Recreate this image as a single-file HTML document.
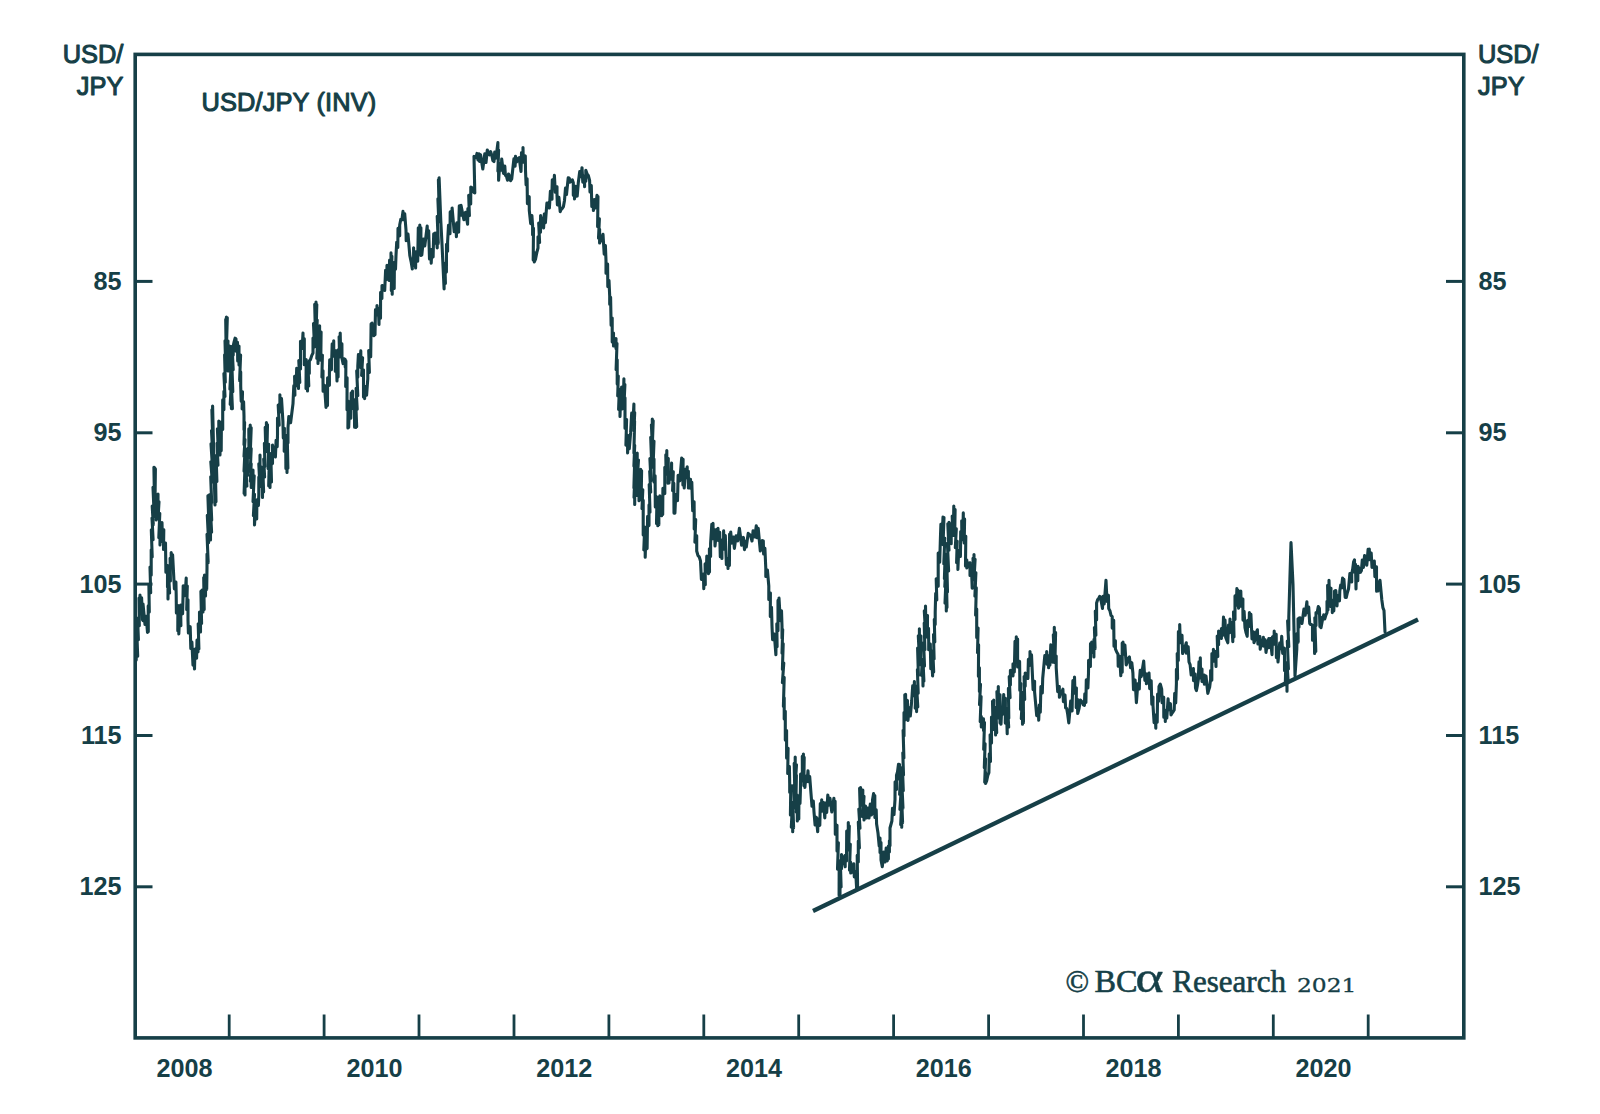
<!DOCTYPE html>
<html><head><meta charset="utf-8"><title>USD/JPY (INV)</title>
<style>
html,body{margin:0;padding:0;background:#fff;}
svg{display:block;}
.ax{font-family:"Liberation Sans",Arial,Helvetica,sans-serif;font-weight:normal;font-size:25.4px;fill:#163f47;stroke:#163f47;stroke-width:1.05px;stroke-linejoin:round;}
.num{font-family:"Liberation Sans",Arial,Helvetica,sans-serif;font-weight:bold;font-size:25.2px;fill:#163f47;}
.wm{font-family:"Liberation Serif","Times New Roman",serif;font-size:31px;fill:#163f47;stroke:#163f47;stroke-width:0.6px;}
.yr{font-family:"DejaVu Serif","Liberation Serif",serif;font-size:19px;stroke-width:0.3px;}
</style></head>
<body>
<svg width="1600" height="1114" viewBox="0 0 1600 1114">
<rect width="1600" height="1114" fill="#ffffff"/>
<rect x="135.2" y="54.4" width="1328.6" height="983.5000000000001" fill="none" stroke="#163f47" stroke-width="3.6"/>
<line x1="135.2" y1="281.4" x2="152.5" y2="281.4" stroke="#163f47" stroke-width="3"/>
<line x1="1446.0" y1="281.4" x2="1463.8" y2="281.4" stroke="#163f47" stroke-width="3"/>
<text class="num" x="121.6" y="289.8" text-anchor="end">85</text>
<text class="num" x="1478.6" y="289.8" text-anchor="start">85</text>
<line x1="135.2" y1="432.8" x2="152.5" y2="432.8" stroke="#163f47" stroke-width="3"/>
<line x1="1446.0" y1="432.8" x2="1463.8" y2="432.8" stroke="#163f47" stroke-width="3"/>
<text class="num" x="121.6" y="441.2" text-anchor="end">95</text>
<text class="num" x="1478.6" y="441.2" text-anchor="start">95</text>
<line x1="135.2" y1="584.1" x2="152.5" y2="584.1" stroke="#163f47" stroke-width="3"/>
<line x1="1446.0" y1="584.1" x2="1463.8" y2="584.1" stroke="#163f47" stroke-width="3"/>
<text class="num" x="121.6" y="592.5" text-anchor="end">105</text>
<text class="num" x="1478.6" y="592.5" text-anchor="start">105</text>
<line x1="135.2" y1="735.5" x2="152.5" y2="735.5" stroke="#163f47" stroke-width="3"/>
<line x1="1446.0" y1="735.5" x2="1463.8" y2="735.5" stroke="#163f47" stroke-width="3"/>
<text class="num" x="121.6" y="743.9" text-anchor="end">115</text>
<text class="num" x="1478.6" y="743.9" text-anchor="start">115</text>
<line x1="135.2" y1="886.8" x2="152.5" y2="886.8" stroke="#163f47" stroke-width="3"/>
<line x1="1446.0" y1="886.8" x2="1463.8" y2="886.8" stroke="#163f47" stroke-width="3"/>
<text class="num" x="121.6" y="895.2" text-anchor="end">125</text>
<text class="num" x="1478.6" y="895.2" text-anchor="start">125</text>
<line x1="229.2" y1="1014.5" x2="229.2" y2="1037.9" stroke="#163f47" stroke-width="2.8"/>
<line x1="324.1" y1="1014.5" x2="324.1" y2="1037.9" stroke="#163f47" stroke-width="2.8"/>
<line x1="419.0" y1="1014.5" x2="419.0" y2="1037.9" stroke="#163f47" stroke-width="2.8"/>
<line x1="514.0" y1="1014.5" x2="514.0" y2="1037.9" stroke="#163f47" stroke-width="2.8"/>
<line x1="608.9" y1="1014.5" x2="608.9" y2="1037.9" stroke="#163f47" stroke-width="2.8"/>
<line x1="703.8" y1="1014.5" x2="703.8" y2="1037.9" stroke="#163f47" stroke-width="2.8"/>
<line x1="798.7" y1="1014.5" x2="798.7" y2="1037.9" stroke="#163f47" stroke-width="2.8"/>
<line x1="893.6" y1="1014.5" x2="893.6" y2="1037.9" stroke="#163f47" stroke-width="2.8"/>
<line x1="988.6" y1="1014.5" x2="988.6" y2="1037.9" stroke="#163f47" stroke-width="2.8"/>
<line x1="1083.5" y1="1014.5" x2="1083.5" y2="1037.9" stroke="#163f47" stroke-width="2.8"/>
<line x1="1178.4" y1="1014.5" x2="1178.4" y2="1037.9" stroke="#163f47" stroke-width="2.8"/>
<line x1="1273.3" y1="1014.5" x2="1273.3" y2="1037.9" stroke="#163f47" stroke-width="2.8"/>
<line x1="1368.2" y1="1014.5" x2="1368.2" y2="1037.9" stroke="#163f47" stroke-width="2.8"/>
<text class="num" x="184.6" y="1076.5" text-anchor="middle">2008</text>
<text class="num" x="374.4" y="1076.5" text-anchor="middle">2010</text>
<text class="num" x="564.2" y="1076.5" text-anchor="middle">2012</text>
<text class="num" x="754.0" y="1076.5" text-anchor="middle">2014</text>
<text class="num" x="943.8" y="1076.5" text-anchor="middle">2016</text>
<text class="num" x="1133.6" y="1076.5" text-anchor="middle">2018</text>
<text class="num" x="1323.4" y="1076.5" text-anchor="middle">2020</text>
<text class="ax" x="123.4" y="63" text-anchor="end">USD/</text>
<text class="ax" x="123.4" y="95.3" text-anchor="end">JPY</text>
<text class="ax" x="1478" y="63">USD/</text>
<text class="ax" x="1478" y="95.3">JPY</text>
<text class="ax" x="201.4" y="111.4" style="letter-spacing:0.15px">USD/JPY (INV)</text>
<path d="M136.2,660.0 L136.2,648.4 L137.7,656.2 L136.8,632.1 L138.4,639.7 L137.6,618.2 L139.3,625.7 L139.0,598.0 L140.0,603.5 L140.0,595.0 L140.0,606.9 L141.6,597.9 L142.5,620.0 L142.5,610.7 L143.0,620.6 L143.0,604.0 L145.0,624.5 L146.2,616.4 L147.5,632.5 L147.5,624.2 L148.3,631.8 L148.2,605.9 L149.3,612.1 L148.9,585.5 L150.7,592.7 L150.0,567.0 L151.2,575.2 L151.2,562.5 L151.2,549.7 L152.2,556.9 L151.3,529.8 L153.1,539.8 L152.0,518.0 L153.3,524.6 L152.2,506.1 L154.0,511.4 L153.0,487.4 L154.4,496.7 L153.9,467.2 L154.5,476.4 L154.5,467.5 L154.5,478.5 L155.4,468.9 L155.0,501.4 L156.1,494.5 L155.4,516.8 L156.2,507.9 L156.2,520.0 L156.2,509.0 L157.7,515.7 L158.0,494.0 L158.0,507.5 L159.0,501.9 L158.0,518.8 L159.8,513.5 L158.8,537.7 L160.0,529.9 L160.0,545.0 L160.1,532.9 L161.3,541.6 L162.0,522.5 L162.3,535.3 L163.8,529.7 L163.5,549.4 L165.5,543.1 L165.9,572.2 L167.5,565.6 L167.5,575.0 L167.5,587.0 L168.0,580.0 L168.0,599.0 L168.0,587.4 L169.6,592.9 L168.6,574.8 L170.4,581.1 L170.1,558.3 L171.2,564.8 L171.2,552.5 L171.4,562.7 L172.6,554.8 L174.4,588.9 L175.9,582.0 L176.2,595.0 L176.4,612.9 L177.9,605.5 L177.8,630.8 L178.8,624.9 L178.8,634.0 L179.6,616.6 L180.9,625.7 L180.6,605.1 L182.6,613.8 L183.0,597.5 L183.2,585.8 L185.1,595.6 L186.2,578.0 L186.2,593.1 L187.3,586.0 L186.7,609.6 L188.0,599.7 L188.0,620.0 L188.4,633.0 L190.2,626.7 L190.8,648.5 L191.9,642.1 L193.0,665.3 L194.3,660.0 L194.5,669.0 L195.0,649.0 L196.6,658.3 L197.0,640.0 L198.0,652.0 L198.0,639.4 L198.9,649.0 L198.2,623.7 L199.5,630.0 L199.5,612.0 L199.5,620.5 L200.5,614.7 L200.5,632.0 L200.5,617.9 L201.6,623.6 L200.9,591.4 L202.0,601.3 L202.0,590.0 L202.0,607.1 L203.0,599.1 L203.0,612.0 L203.0,604.5 L204.2,609.6 L203.7,577.5 L204.5,587.3 L204.5,575.0 L204.5,590.6 L205.5,583.2 L205.5,596.0 L205.6,579.5 L206.7,589.5 L207.0,568.0 L207.0,554.1 L208.2,562.8 L207.0,534.2 L208.6,542.7 L207.3,515.2 L208.8,522.0 L207.9,495.8 L208.8,505.1 L208.8,495.0 L208.8,509.3 L209.9,500.0 L208.9,521.9 L210.5,515.0 L209.4,536.0 L210.5,530.6 L210.5,540.0 L210.5,522.8 L211.6,532.2 L210.5,511.5 L211.7,520.1 L210.6,494.0 L211.7,503.2 L210.7,476.7 L212.3,481.9 L210.8,461.7 L212.5,467.9 L211.0,443.9 L212.6,451.9 L211.5,430.6 L212.6,435.7 L211.9,409.9 L212.6,415.9 L212.6,406.0 L213.8,458.2 L215.0,505.0 L215.0,492.4 L216.0,501.8 L215.5,475.4 L216.9,481.4 L216.1,455.6 L218.0,465.2 L217.0,443.2 L218.3,451.1 L217.4,428.7 L218.8,436.2 L218.8,421.0 L218.8,436.7 L220.0,428.2 L218.9,447.5 L220.0,441.7 L220.0,455.0 L220.0,444.7 L221.2,450.7 L221.4,421.9 L222.7,429.4 L222.7,399.9 L223.9,409.8 L223.9,398.6 L223.9,391.3 L225.0,396.5 L223.9,373.6 L225.3,382.1 L224.6,354.9 L225.6,363.8 L225.0,340.8 L226.1,348.1 L225.7,319.4 L226.4,325.6 L226.4,317.0 L226.4,326.0 L227.3,317.8 L226.4,349.3 L228.0,341.0 L227.3,370.3 L228.0,361.9 L228.0,371.0 L228.3,355.9 L229.3,361.8 L229.6,346.0 L229.6,357.9 L230.4,349.3 L229.6,371.1 L231.1,364.3 L229.9,389.3 L231.4,381.2 L230.2,404.4 L231.4,395.5 L231.4,408.6 L231.4,399.2 L232.4,408.8 L231.4,384.4 L232.8,391.7 L231.8,362.8 L233.2,369.7 L232.1,346.4 L233.2,355.3 L233.2,346.0 L234.1,341.9 L235.1,338.2 L236.0,339.0 L236.0,351.1 L237.5,342.4 L237.7,361.0 L237.8,348.1 L239.0,356.7 L239.0,346.0 L239.0,365.0 L240.6,355.0 L239.6,380.8 L240.7,371.9 L240.7,386.0 L241.2,401.2 L242.5,391.9 L242.1,409.0 L243.6,401.8 L244.0,416.0 L244.0,429.7 L244.6,422.3 L244.0,444.8 L245.0,439.5 L244.0,456.3 L245.0,449.6 L244.0,471.3 L245.0,465.6 L244.1,493.5 L245.0,484.3 L245.0,495.0 L245.0,478.6 L246.9,486.1 L245.9,469.3 L247.5,475.4 L247.3,448.8 L249.0,457.4 L248.8,428.9 L250.2,438.2 L250.2,425.0 L250.2,434.8 L251.2,427.9 L250.2,454.6 L251.2,448.5 L250.2,471.5 L251.2,463.9 L250.3,481.2 L251.2,473.5 L251.2,487.5 L251.2,475.3 L253.0,480.4 L253.0,470.0 L253.0,482.8 L254.2,475.8 L253.0,501.8 L254.5,494.3 L253.4,515.7 L254.5,508.0 L254.5,525.0 L255.4,509.3 L256.7,518.9 L256.9,499.9 L258.4,505.5 L258.8,495.0 L258.8,477.1 L259.9,486.6 L258.8,463.8 L260.0,469.8 L260.0,455.0 L260.0,473.0 L261.8,467.3 L261.0,484.8 L262.2,478.8 L262.5,497.5 L262.5,485.3 L263.6,491.9 L262.9,471.3 L264.6,476.9 L263.7,459.1 L264.9,466.6 L264.4,443.4 L265.8,451.1 L265.2,427.4 L266.4,434.5 L266.4,422.5 L266.4,430.9 L267.5,424.8 L266.9,451.8 L268.7,444.2 L268.1,468.7 L269.3,459.4 L268.7,485.9 L270.0,476.8 L270.0,487.5 L270.0,475.5 L271.5,482.1 L270.8,453.6 L272.5,463.6 L272.5,445.0 L273.5,449.7 L274.4,454.1 L275.4,457.0 L276.1,440.4 L277.2,446.7 L277.5,435.0 L277.5,418.1 L279.2,425.2 L278.2,405.1 L279.9,412.1 L279.9,394.8 L279.9,404.6 L281.5,398.6 L282.9,421.0 L283.3,438.0 L284.4,428.2 L284.2,451.2 L285.7,442.4 L285.9,468.5 L287.0,462.5 L287.0,472.5 L287.0,463.2 L287.9,468.3 L287.2,435.0 L288.0,442.9 L288.0,428.0 L288.8,416.6 L290.6,422.7 L293.0,403.6 L293.8,385.7 L294.9,395.3 L294.6,376.2 L296.1,385.9 L296.7,368.4 L297.1,384.4 L298.5,377.8 L298.5,388.5 L298.5,375.4 L299.8,382.5 L298.8,360.6 L300.5,369.1 L300.5,350.9 L300.5,341.2 L302.2,348.4 L303.0,333.0 L303.1,344.7 L304.3,338.8 L304.3,364.7 L306.2,359.6 L306.0,388.5 L307.5,380.0 L307.5,391.0 L307.5,379.0 L308.8,386.0 L307.9,363.5 L309.3,373.4 L309.3,361.0 L310.5,359.5 L311.8,355.4 L313.0,353.0 L313.0,338.0 L314.5,346.9 L313.5,323.6 L315.4,333.0 L314.7,304.4 L316.0,313.3 L316.0,302.0 L316.0,313.3 L316.8,304.6 L316.2,327.5 L317.2,320.1 L316.4,343.4 L318.0,335.2 L316.8,358.5 L318.0,348.8 L318.0,363.4 L318.0,351.4 L319.1,359.7 L318.2,331.3 L319.6,338.3 L319.6,325.7 L319.6,340.5 L321.1,332.0 L320.8,360.3 L322.4,355.2 L321.9,377.1 L323.0,370.8 L323.0,381.0 L323.1,391.3 L324.5,385.3 L326.0,407.4 L326.0,399.2 L327.5,405.5 L327.6,377.8 L329.4,385.3 L329.4,373.5 L329.7,359.8 L331.4,369.8 L332.2,343.8 L333.7,349.1 L333.7,340.8 L333.8,356.1 L335.7,350.8 L335.3,371.2 L336.5,363.9 L337.0,381.0 L337.0,369.0 L338.1,377.1 L338.1,349.9 L339.6,357.0 L339.1,336.8 L340.2,343.6 L340.2,333.0 L340.6,351.6 L341.9,343.8 L342.0,358.4 L343.1,363.6 L344.1,358.8 L345.2,359.6 L345.2,367.1 L345.9,360.9 L345.7,386.5 L347.1,377.8 L347.0,409.8 L348.1,401.0 L347.9,428.0 L348.7,418.3 L348.7,427.5 L349.3,411.1 L350.8,418.2 L351.2,392.7 L352.5,398.9 L352.5,391.0 L353.0,408.4 L354.4,399.8 L354.6,427.3 L355.8,418.2 L355.8,427.5 L355.8,418.7 L356.7,426.8 L355.8,404.1 L357.2,409.3 L356.1,388.3 L357.8,395.6 L356.7,370.9 L357.8,377.2 L357.8,366.0 L358.4,354.6 L359.9,363.5 L360.8,350.9 L360.9,367.7 L362.6,357.9 L361.6,375.5 L363.5,369.9 L363.5,397.0 L364.6,388.8 L364.6,398.6 L365.1,386.6 L366.6,395.1 L367.8,378.5 L367.8,364.3 L369.4,372.5 L368.7,350.5 L370.7,356.7 L371.1,323.7 L372.0,333.1 L372.0,323.0 L373.9,335.8 L373.9,328.4 L375.0,334.7 L375.5,309.5 L377.0,315.0 L377.0,305.6 L377.0,313.7 L378.4,308.3 L379.0,324.5 L379.1,310.2 L380.5,318.3 L380.6,292.4 L381.9,298.5 L382.0,285.5 L383.4,286.2 L384.7,290.5 L385.6,270.3 L386.7,279.5 L387.0,265.4 L387.0,274.6 L388.4,265.6 L389.0,280.5 L389.6,260.0 L391.0,266.0 L391.0,252.9 L391.0,265.3 L391.9,256.2 L391.3,290.5 L392.2,280.6 L392.2,294.3 L392.2,279.7 L394.2,288.5 L394.4,262.4 L395.5,269.3 L396.0,255.4 L396.7,242.3 L397.8,247.6 L398.0,228.4 L399.7,235.8 L399.7,225.0 L400.8,219.3 L401.9,219.6 L403.0,211.4 L403.0,219.8 L404.7,213.7 L406.0,230.0 L406.2,240.6 L408.0,234.1 L409.8,255.4 L411.1,261.6 L412.3,269.0 L412.3,258.8 L413.6,265.6 L413.6,247.8 L413.6,259.3 L415.3,253.8 L415.6,268.0 L415.8,251.7 L417.7,261.3 L418.3,227.7 L419.8,234.9 L419.8,225.0 L419.8,234.3 L420.9,227.7 L420.9,255.5 L421.8,246.0 L421.8,255.0 L423.4,239.1 L424.8,245.9 L427.2,226.0 L427.5,237.8 L428.7,230.9 L429.5,259.0 L431.0,250.0 L431.2,263.2 L431.9,249.2 L433.1,257.0 L433.7,233.9 L434.9,243.3 L435.0,233.0 L435.0,240.7 L436.3,233.1 L437.2,248.0 L437.2,233.7 L438.3,243.5 L437.2,216.3 L438.8,221.7 L437.9,198.9 L439.0,204.3 L438.4,179.7 L439.1,189.2 L439.1,177.8 L440.8,221.0 L441.9,242.0 L443.0,265.5 L444.1,289.0 L444.2,275.1 L445.4,283.4 L444.9,263.3 L446.4,272.1 L446.5,244.3 L447.6,251.2 L447.6,242.0 L448.5,225.3 L450.0,233.7 L450.2,211.9 L451.9,220.5 L452.1,208.0 L454.2,231.8 L456.1,224.7 L456.4,236.6 L456.8,222.8 L458.6,232.1 L459.3,205.7 L461.0,215.2 L461.0,205.2 L463.9,219.8 L465.6,212.2 L467.6,224.2 L467.9,208.5 L469.4,215.6 L468.7,195.2 L470.7,203.9 L470.8,187.0 L471.8,187.6 L472.8,189.0 L473.8,192.4 L474.8,192.9 L474.0,156.4 L475.0,156.6 L476.0,157.6 L477.0,153.4 L478.0,160.0 L479.0,153.9 L479.5,161.4 L480.6,154.9 L482.8,169.0 L484.8,153.7 L486.0,162.5 L487.3,150.0 L488.4,154.2 L489.5,154.8 L490.6,151.6 L491.8,155.2 L492.9,160.6 L494.0,161.5 L494.7,152.0 L496.0,158.1 L497.9,142.6 L497.9,158.1 L498.6,150.1 L497.9,171.1 L498.6,164.7 L498.6,180.3 L499.8,163.6 L501.3,170.2 L501.7,159.0 L503.5,173.4 L504.8,166.0 L505.4,175.3 L506.4,176.2 L507.5,180.2 L508.5,174.0 L509.6,176.3 L510.6,180.7 L511.7,179.0 L513.9,158.8 L515.1,166.2 L515.5,156.4 L516.7,161.9 L518.0,158.9 L519.2,157.7 L521.0,171.5 L521.5,152.5 L523.0,159.4 L523.0,147.6 L523.3,162.3 L525.3,155.9 L525.5,170.3 L526.1,185.0 L527.1,178.8 L527.4,203.6 L529.2,196.7 L529.3,210.5 L530.7,223.6 L531.9,215.6 L532.6,225.5 L532.6,234.8 L533.5,228.2 L533.2,260.0 L534.3,252.5 L534.3,262.0 L535.5,259.1 L536.8,252.6 L538.0,248.0 L538.0,236.7 L539.6,242.5 L538.7,223.1 L540.5,232.2 L540.6,215.5 L541.6,220.1 L542.6,223.0 L543.6,228.0 L544.3,214.1 L545.4,222.7 L546.9,203.0 L548.1,203.0 L549.4,208.0 L550.4,191.2 L552.0,199.2 L552.0,190.4 L552.3,179.9 L553.7,188.8 L554.4,175.3 L555.3,192.3 L557.0,186.8 L557.0,195.4 L557.4,205.0 L558.9,197.3 L560.2,211.7 L561.3,209.2 L562.4,208.3 L563.4,206.7 L564.5,200.4 L565.5,188.0 L566.5,194.5 L568.2,177.8 L569.2,178.0 L570.2,182.1 L571.3,180.3 L572.3,179.8 L573.3,182.8 L573.3,195.2 L574.5,189.7 L574.5,199.0 L575.4,186.3 L577.2,196.1 L578.3,182.8 L579.7,171.6 L581.1,176.6 L582.0,167.7 L582.8,182.2 L584.4,176.0 L584.6,186.6 L584.6,176.3 L585.8,181.3 L585.8,170.3 L587.1,174.1 L588.3,175.5 L589.6,180.3 L590.0,192.0 L591.3,185.5 L591.8,206.5 L593.2,200.0 L593.4,210.5 L594.4,199.6 L595.6,207.9 L597.0,195.4 L597.0,205.3 L598.0,196.6 L597.6,226.6 L599.4,218.8 L598.5,238.3 L599.6,229.2 L599.6,243.0 L600.7,240.7 L601.9,238.0 L603.0,234.3 L604.2,254.1 L605.4,245.6 L606.0,260.7 L606.0,273.3 L607.6,264.1 L607.8,286.6 L609.0,280.5 L609.7,296.0 L609.7,304.2 L610.6,297.2 L611.1,325.2 L612.2,318.1 L612.2,326.0 L612.2,341.9 L613.5,333.1 L613.5,346.0 L614.8,340.8 L616.0,338.6 L616.0,348.6 L617.0,343.5 L616.1,369.7 L617.2,359.8 L617.2,371.3 L617.2,384.1 L618.3,376.0 L617.7,396.0 L619.3,389.3 L618.6,409.4 L620.0,402.6 L620.0,416.5 L620.5,399.8 L622.1,408.9 L621.6,387.0 L623.5,395.9 L623.9,378.8 L623.9,391.4 L624.9,384.6 L623.9,406.3 L625.0,397.8 L625.0,414.0 L625.0,428.2 L626.6,419.6 L625.9,445.2 L627.6,435.4 L627.6,453.0 L628.0,443.3 L629.3,448.7 L630.6,432.9 L631.7,413.1 L633.0,421.6 L633.9,404.0 L633.9,419.4 L634.7,412.6 L633.9,430.9 L634.6,421.0 L633.9,453.1 L634.7,445.4 L633.9,466.3 L634.7,460.0 L633.9,488.0 L634.7,479.0 L634.0,497.5 L634.7,488.4 L634.7,504.5 L634.7,489.4 L636.1,495.6 L635.3,472.9 L636.9,478.9 L636.0,462.6 L637.2,467.8 L637.2,453.0 L637.2,469.7 L638.5,460.0 L637.2,479.5 L638.9,471.1 L637.8,495.8 L639.0,487.8 L639.0,500.7 L639.0,493.6 L640.0,499.6 L639.3,476.5 L640.7,483.4 L640.7,469.3 L640.7,478.3 L641.6,470.7 L641.2,496.4 L642.8,489.7 L642.0,508.6 L643.2,500.3 L643.2,515.8 L643.2,534.9 L644.7,526.9 L643.8,550.0 L645.2,541.9 L645.2,557.2 L645.7,539.8 L647.1,548.6 L647.6,516.4 L649.0,525.6 L649.0,515.8 L649.0,504.9 L650.0,512.1 L649.2,484.5 L650.7,492.1 L649.7,471.3 L651.0,480.8 L649.9,458.6 L651.8,467.2 L650.7,437.3 L652.3,445.3 L651.4,424.7 L652.3,432.6 L652.3,419.0 L652.3,428.0 L653.2,420.8 L652.3,446.5 L654.0,441.3 L653.1,465.3 L654.0,459.1 L654.0,470.6 L654.0,481.9 L655.1,475.7 L655.3,506.9 L657.0,497.1 L656.5,523.5 L657.8,516.4 L657.8,525.8 L657.8,516.0 L658.9,524.7 L658.6,497.4 L659.8,502.9 L659.8,495.7 L659.8,505.8 L661.3,498.1 L661.6,515.8 L661.6,508.3 L662.7,514.5 L662.9,488.3 L664.8,493.6 L664.8,480.6 L664.8,467.2 L666.1,474.2 L665.8,454.8 L666.8,460.0 L666.8,450.5 L666.8,465.1 L668.3,458.6 L668.0,483.3 L669.0,473.5 L669.0,483.0 L669.0,472.7 L670.9,479.2 L671.6,463.0 L671.6,477.7 L673.3,471.7 L672.6,490.6 L673.8,483.2 L674.0,513.1 L674.9,503.1 L674.9,513.3 L675.7,494.6 L677.5,500.6 L677.9,485.6 L678.1,475.2 L679.8,480.8 L681.7,458.0 L681.7,468.8 L683.1,459.3 L682.9,484.9 L684.2,479.3 L684.2,488.0 L685.8,469.1 L686.9,476.4 L687.2,466.8 L687.2,477.7 L688.4,471.2 L688.4,488.0 L690.5,479.3 L690.5,488.2 L691.8,482.3 L692.7,510.7 L694.1,501.7 L694.2,513.3 L694.2,529.0 L695.7,519.5 L694.9,542.3 L696.7,535.8 L696.7,551.0 L698.0,555.6 L699.2,556.8 L700.5,561.0 L701.4,579.5 L703.4,574.0 L703.8,588.6 L703.8,577.1 L705.3,584.8 L705.1,563.9 L706.4,571.9 L706.8,556.0 L706.9,567.1 L708.0,558.1 L708.5,573.6 L708.5,563.3 L709.5,572.1 L709.4,548.7 L710.6,556.5 L710.6,543.4 L711.8,524.4 L712.8,534.3 L713.0,523.3 L713.3,538.6 L714.7,529.8 L715.0,546.0 L716.6,529.6 L717.7,537.1 L718.0,528.3 L718.3,540.4 L719.7,532.2 L720.3,556.6 L721.8,547.7 L721.9,558.5 L721.9,540.0 L723.6,549.2 L723.6,530.9 L724.1,545.4 L725.3,535.6 L726.4,564.6 L728.0,558.8 L728.0,568.5 L728.0,558.2 L729.4,565.4 L729.6,534.0 L730.7,543.0 L730.7,532.0 L731.7,543.2 L733.3,537.1 L734.4,548.4 L736.1,535.8 L737.7,540.9 L739.4,528.3 L741.6,545.2 L743.4,537.4 L744.5,549.7 L745.2,541.3 L746.3,547.0 L748.2,533.4 L749.5,534.4 L750.7,536.1 L752.0,541.0 L753.1,530.7 L754.9,537.0 L756.3,525.8 L756.7,537.8 L758.2,528.2 L760.3,551.0 L761.3,547.7 L762.3,540.6 L763.3,541.0 L763.6,554.0 L764.9,548.3 L765.8,568.5 L765.8,576.5 L767.4,570.0 L768.8,586.0 L768.8,599.4 L770.4,593.1 L770.3,616.4 L771.5,607.3 L772.0,626.0 L772.6,639.8 L774.3,634.0 L775.9,654.8 L776.1,637.7 L777.1,646.7 L776.8,623.8 L778.0,630.7 L778.0,600.4 L779.0,605.6 L779.0,598.0 L780.3,620.6 L781.5,610.7 L782.0,626.0 L782.0,638.2 L782.7,629.5 L782.0,653.3 L783.2,643.8 L782.4,669.5 L783.8,663.0 L782.4,682.6 L784.2,677.5 L783.4,706.5 L784.2,697.8 L784.2,708.2 L784.2,719.0 L785.3,711.2 L785.3,740.1 L786.6,730.5 L786.6,744.8 L786.6,758.1 L788.1,748.2 L787.7,773.5 L789.4,766.5 L789.7,784.5 L789.7,792.3 L790.8,785.5 L790.4,815.0 L792.3,807.0 L791.3,827.1 L792.7,820.1 L792.7,831.8 L792.7,819.1 L793.6,828.0 L792.8,802.2 L794.4,808.1 L793.6,785.2 L794.8,791.2 L794.2,763.4 L795.2,769.9 L795.2,757.0 L795.2,773.1 L796.5,764.7 L795.4,782.1 L796.4,775.2 L795.9,801.9 L797.2,795.1 L796.3,812.1 L797.3,806.2 L797.3,821.0 L797.3,809.4 L798.8,819.0 L798.9,796.6 L800.0,803.4 L800.4,790.6 L800.6,774.1 L802.4,780.9 L802.3,756.3 L803.3,765.9 L803.4,754.0 L803.4,764.3 L804.2,757.4 L803.8,785.6 L804.9,779.0 L804.9,787.5 L805.8,776.3 L807.2,781.6 L808.0,770.7 L808.5,781.8 L809.7,776.6 L811.0,793.6 L812.0,806.3 L813.3,801.1 L814.0,812.0 L815.1,825.0 L816.3,817.3 L817.7,831.8 L818.0,819.0 L819.8,825.3 L820.3,803.5 L821.5,809.3 L821.7,799.7 L822.2,811.1 L823.6,802.6 L824.8,818.0 L825.5,803.1 L826.7,812.5 L827.8,795.0 L828.8,805.1 L830.0,798.4 L831.8,812.0 L833.9,798.2 L833.9,806.3 L835.1,801.2 L835.3,834.3 L837.0,825.3 L837.0,839.4 L837.0,851.1 L838.4,842.7 L837.5,869.2 L839.2,860.7 L839.1,895.3 L840.0,886.0 L840.0,895.8 L840.0,881.4 L841.1,886.9 L840.4,863.4 L841.5,868.7 L841.5,854.6 L842.7,857.6 L844.0,861.5 L845.2,866.8 L845.2,855.3 L846.5,861.1 L846.7,831.0 L848.3,836.8 L848.3,822.6 L848.3,831.5 L849.3,826.1 L848.7,850.0 L850.3,844.3 L849.5,870.2 L850.7,862.4 L850.7,873.0 L851.7,872.2 L852.8,869.0 L853.8,863.8 L854.3,876.9 L855.7,871.6 L856.6,888.0 L856.6,878.8 L857.6,886.3 L857.2,855.4 L858.3,862.0 L858.3,848.5 L858.3,841.1 L859.4,847.9 L858.3,822.0 L860.0,828.3 L858.8,809.1 L860.4,816.4 L859.6,788.3 L860.5,795.1 L860.5,787.5 L862.0,800.0 L862.8,790.0 L862.8,805.2 L864.0,796.4 L863.0,816.9 L864.0,809.9 L864.0,820.0 L865.5,806.0 L866.5,818.0 L868.0,808.0 L869.0,818.0 L870.3,804.0 L871.5,815.0 L871.5,804.6 L872.5,813.8 L872.5,800.0 L873.6,793.6 L873.7,805.1 L874.8,795.5 L874.9,817.4 L876.2,809.9 L876.6,824.0 L878.0,833.0 L879.2,846.0 L880.0,838.0 L880.0,852.4 L881.0,842.5 L881.0,860.0 L882.3,866.7 L883.8,852.0 L885.0,862.0 L886.2,848.0 L887.2,861.0 L887.2,852.7 L888.4,858.9 L888.4,846.0 L889.4,852.0 L889.4,840.7 L890.0,845.7 L890.0,828.0 L891.9,821.0 L892.5,808.4 L894.0,814.6 L895.0,799.7 L895.1,781.8 L896.5,789.5 L896.5,775.3 L897.5,772.0 L898.5,764.3 L899.5,764.6 L899.5,779.4 L900.6,772.8 L899.6,794.4 L901.3,787.8 L899.9,809.5 L901.7,801.0 L900.7,824.8 L901.7,819.0 L901.7,827.2 L901.7,815.0 L902.6,822.8 L901.7,799.5 L903.0,808.2 L901.9,784.3 L903.3,790.6 L902.4,767.4 L903.5,774.9 L902.8,752.7 L903.9,758.0 L903.1,730.4 L904.0,736.0 L904.0,726.5 L904.0,712.6 L905.1,720.0 L904.8,694.8 L905.6,704.2 L905.6,694.4 L905.6,708.0 L907.4,700.4 L908.0,720.4 L909.0,707.5 L910.3,716.0 L911.7,701.0 L912.7,685.9 L914.0,692.5 L914.4,681.6 L914.4,695.7 L916.0,686.4 L915.2,708.2 L916.6,701.1 L916.6,711.6 L916.6,697.7 L917.8,706.9 L916.6,686.4 L918.2,693.3 L917.4,669.5 L918.4,675.4 L917.6,648.1 L919.4,657.8 L918.3,635.9 L919.4,644.3 L919.4,628.8 L919.4,643.1 L921.0,636.1 L920.6,664.7 L922.3,659.4 L921.5,675.4 L922.8,670.2 L923.0,686.0 L923.0,671.2 L923.9,681.1 L923.0,660.8 L924.5,665.9 L923.6,642.7 L924.9,649.6 L924.2,623.0 L925.5,632.2 L924.3,610.8 L925.5,618.9 L925.5,606.0 L925.8,622.4 L927.5,615.5 L927.4,637.2 L928.5,628.2 L928.7,641.0 L928.7,649.7 L930.3,644.1 L930.8,668.8 L931.9,661.4 L932.6,676.0 L932.6,666.9 L933.7,672.0 L932.8,650.8 L934.1,658.9 L933.5,634.5 L934.8,641.9 L934.3,619.3 L935.2,624.6 L935.2,612.0 L935.7,593.4 L936.8,600.0 L936.2,578.8 L938.2,586.2 L938.2,568.0 L938.2,553.0 L939.7,562.3 L940.4,538.5 L940.9,524.2 L942.3,533.2 L943.0,517.0 L943.0,525.2 L944.0,517.5 L943.0,544.7 L944.8,538.3 L943.8,564.0 L945.2,554.0 L944.4,578.8 L945.6,570.1 L944.8,586.7 L945.9,580.9 L945.0,603.2 L946.3,596.4 L946.3,611.0 L946.3,600.0 L947.0,607.6 L946.5,582.1 L947.5,591.9 L946.8,561.9 L948.6,570.9 L947.4,543.3 L949.0,550.3 L947.8,523.8 L949.0,532.7 L949.0,522.3 L949.0,533.6 L950.4,523.9 L951.2,543.8 L951.2,529.3 L952.9,535.5 L952.2,516.0 L953.5,523.9 L953.8,506.0 L953.8,516.5 L955.1,509.6 L954.7,535.6 L956.3,528.8 L955.3,547.7 L957.2,541.3 L956.6,562.8 L957.9,557.3 L957.9,569.4 L958.7,550.5 L960.4,556.5 L960.6,543.8 L960.7,531.5 L961.9,539.9 L961.7,520.8 L963.0,526.5 L963.3,512.9 L963.3,524.0 L964.6,518.9 L964.2,542.9 L965.8,536.3 L965.5,566.0 L966.8,560.0 L966.8,568.0 L967.9,564.7 L968.9,562.9 L970.0,562.7 L970.0,575.5 L971.4,565.5 L972.2,588.3 L972.2,572.9 L973.6,579.0 L973.0,558.3 L974.0,564.2 L974.0,554.6 L974.0,568.9 L975.1,559.2 L974.0,579.6 L975.9,572.8 L974.9,596.1 L976.3,587.9 L975.6,615.1 L976.7,609.1 L976.7,619.0 L976.7,637.4 L978.1,628.1 L977.5,652.7 L978.6,644.9 L978.4,676.2 L979.4,667.7 L979.4,678.5 L979.4,691.5 L980.5,684.4 L979.5,704.6 L981.1,696.6 L980.2,721.6 L981.3,716.5 L981.3,727.0 L982.4,726.3 L983.5,718.9 L983.5,730.5 L984.5,722.6 L983.7,749.5 L985.1,743.7 L984.3,767.6 L985.6,758.9 L984.7,782.3 L985.6,772.4 L985.6,783.5 L986.7,780.7 L987.8,775.5 L988.9,772.7 L989.3,753.9 L990.5,761.4 L990.1,734.8 L991.5,743.1 L991.5,732.3 L991.5,717.1 L993.0,726.1 L992.5,701.4 L993.7,706.8 L993.7,700.0 L993.7,713.7 L995.2,707.5 L994.2,729.7 L995.6,722.0 L995.6,735.0 L995.6,726.2 L996.7,732.6 L995.9,710.3 L997.7,718.1 L996.9,691.6 L998.3,697.8 L998.3,686.5 L998.4,703.7 L1000.0,694.8 L1000.0,723.1 L1001.0,714.1 L1001.0,724.2 L1001.7,708.6 L1002.7,714.1 L1003.7,694.6 L1003.7,707.5 L1005.4,698.2 L1005.3,723.1 L1006.7,717.2 L1007.2,733.7 L1007.2,719.0 L1008.7,727.1 L1007.6,708.4 L1008.8,718.3 L1008.4,688.4 L1010.1,697.8 L1009.2,676.5 L1010.4,684.9 L1010.4,670.4 L1011.7,675.1 L1013.0,675.8 L1013.0,663.8 L1014.3,671.9 L1015.0,641.2 L1016.2,649.7 L1016.3,636.7 L1016.3,647.5 L1017.6,639.0 L1017.6,667.0 L1019.6,661.4 L1019.8,678.5 L1019.8,690.3 L1020.9,683.6 L1020.5,709.3 L1022.2,700.9 L1021.3,718.8 L1022.5,712.2 L1022.5,724.2 L1022.5,714.6 L1023.5,722.8 L1023.3,692.3 L1024.7,699.4 L1024.1,676.6 L1025.2,686.3 L1025.2,673.0 L1026.6,675.9 L1027.9,678.5 L1028.4,659.2 L1030.0,665.3 L1030.0,651.5 L1030.3,664.1 L1031.5,654.8 L1033.1,689.7 L1034.6,681.3 L1034.6,692.0 L1036.7,715.7 L1038.4,708.7 L1038.7,720.2 L1039.3,705.1 L1040.3,712.3 L1040.9,686.6 L1042.3,693.0 L1042.7,678.5 L1044.8,655.6 L1046.5,662.1 L1046.7,651.5 L1047.1,664.1 L1048.5,657.9 L1048.6,667.7 L1048.7,655.7 L1049.9,665.2 L1050.8,644.8 L1050.9,656.2 L1052.7,649.5 L1052.9,662.3 L1052.9,646.5 L1054.1,654.5 L1053.3,634.8 L1054.3,644.3 L1054.3,627.3 L1054.3,639.5 L1055.6,632.6 L1054.9,662.7 L1056.2,655.9 L1056.2,667.7 L1057.7,691.7 L1059.3,686.6 L1059.4,697.3 L1060.6,692.6 L1061.7,692.3 L1062.9,689.2 L1063.4,701.6 L1065.0,695.0 L1065.6,708.0 L1066.7,708.4 L1067.7,714.3 L1068.8,722.9 L1070.7,701.0 L1072.1,711.0 L1072.3,700.0 L1072.9,680.6 L1074.5,688.8 L1074.5,677.0 L1075.0,693.3 L1076.4,688.0 L1076.2,707.6 L1077.4,699.3 L1077.7,713.5 L1079.1,708.3 L1080.4,700.0 L1081.4,701.3 L1082.4,701.9 L1083.4,704.9 L1084.4,705.4 L1084.8,693.8 L1085.9,702.5 L1086.3,679.7 L1087.9,687.9 L1088.5,673.0 L1088.6,660.2 L1090.4,666.5 L1090.5,643.5 L1091.6,652.4 L1091.7,642.0 L1091.8,651.8 L1093.7,646.7 L1093.9,657.0 L1094.0,639.3 L1095.1,648.7 L1094.4,627.5 L1095.9,635.2 L1095.3,611.0 L1096.6,620.0 L1096.6,603.0 L1097.7,599.6 L1098.7,598.5 L1099.8,596.3 L1101.2,601.3 L1102.5,608.5 L1102.9,596.4 L1104.2,604.0 L1106.0,580.2 L1107.0,601.4 L1108.4,595.2 L1108.7,608.5 L1109.9,610.7 L1111.0,615.3 L1112.2,616.5 L1112.2,628.1 L1113.7,620.3 L1114.0,646.3 L1115.4,640.8 L1115.4,648.8 L1116.7,652.0 L1118.0,654.2 L1118.2,666.2 L1119.7,656.3 L1120.8,675.8 L1120.8,664.1 L1122.2,672.2 L1122.2,643.0 L1123.0,650.1 L1123.0,642.0 L1123.2,654.1 L1124.9,645.0 L1126.2,665.0 L1127.3,662.0 L1128.3,658.4 L1129.4,657.0 L1130.6,667.8 L1131.8,662.7 L1132.9,673.0 L1133.5,689.8 L1135.1,680.0 L1136.4,702.7 L1137.8,683.8 L1139.3,689.0 L1139.6,678.5 L1140.2,670.3 L1141.3,676.6 L1143.7,661.0 L1144.9,680.5 L1146.4,673.9 L1146.4,683.8 L1147.7,675.8 L1149.0,673.0 L1149.7,688.6 L1151.2,680.8 L1151.8,704.1 L1153.0,697.1 L1153.0,705.4 L1154.1,722.7 L1155.4,716.4 L1155.8,728.3 L1155.9,714.9 L1157.2,722.3 L1157.6,694.0 L1158.7,701.3 L1159.0,686.5 L1160.3,684.1 L1161.7,689.2 L1162.1,702.6 L1163.7,697.3 L1163.8,717.2 L1165.1,710.2 L1165.3,721.4 L1165.5,711.2 L1166.8,718.1 L1168.1,698.8 L1168.7,709.8 L1170.4,703.7 L1171.0,715.0 L1172.1,713.0 L1173.1,711.7 L1174.2,710.0 L1174.7,693.2 L1175.7,703.0 L1176.4,683.7 L1176.4,669.4 L1177.6,679.2 L1177.2,653.6 L1178.3,660.4 L1178.3,649.2 L1178.4,631.5 L1179.7,639.5 L1179.7,624.5 L1180.3,642.8 L1182.0,635.2 L1182.6,653.5 L1183.8,650.9 L1185.1,646.7 L1186.3,642.8 L1186.4,653.2 L1188.2,646.8 L1189.0,662.0 L1190.1,664.6 L1191.2,675.0 L1192.3,673.8 L1193.4,668.6 L1193.5,680.6 L1195.2,674.1 L1195.5,688.0 L1196.4,690.6 L1197.4,685.5 L1198.3,679.4 L1199.0,661.7 L1200.3,668.3 L1200.3,657.8 L1200.6,677.9 L1202.0,669.0 L1202.0,681.5 L1203.1,681.8 L1204.2,675.0 L1204.4,684.1 L1206.0,676.0 L1207.8,693.4 L1208.7,690.0 L1209.7,686.9 L1210.6,679.4 L1210.6,670.6 L1211.8,680.3 L1211.9,653.6 L1213.4,658.7 L1213.4,649.2 L1213.6,661.3 L1215.6,652.9 L1216.0,666.5 L1216.0,651.2 L1217.8,656.6 L1217.2,636.0 L1218.6,644.8 L1218.6,631.0 L1219.5,632.1 L1220.5,633.8 L1221.4,638.5 L1221.4,628.6 L1222.9,635.2 L1223.5,617.0 L1223.5,625.6 L1225.0,620.0 L1225.7,637.4 L1227.8,642.8 L1228.5,625.1 L1229.6,632.8 L1230.0,619.0 L1230.0,629.3 L1231.8,622.7 L1232.8,641.7 L1232.8,627.4 L1234.0,637.0 L1233.5,611.8 L1235.0,619.5 L1235.0,606.0 L1235.0,595.9 L1236.3,605.2 L1236.9,588.5 L1236.9,597.3 L1238.0,590.2 L1238.6,608.3 L1239.1,593.3 L1240.6,603.0 L1240.8,591.0 L1241.2,606.1 L1242.9,599.1 L1242.9,610.5 L1243.0,620.1 L1244.1,611.3 L1245.0,627.7 L1246.1,632.8 L1247.2,636.3 L1247.7,620.4 L1249.1,626.4 L1249.4,612.6 L1249.4,621.0 L1250.9,614.2 L1251.5,627.7 L1252.0,638.9 L1253.6,631.9 L1254.0,642.8 L1255.1,639.6 L1256.3,632.4 L1257.4,629.8 L1257.9,644.0 L1259.9,636.6 L1260.2,649.2 L1261.3,643.7 L1262.3,644.3 L1263.4,637.4 L1263.5,646.1 L1265.2,639.8 L1266.0,652.5 L1266.9,646.3 L1267.9,642.4 L1268.8,638.5 L1269.0,647.6 L1270.4,638.5 L1272.0,654.6 L1272.5,636.7 L1274.1,643.8 L1274.2,631.0 L1274.3,644.2 L1276.2,634.3 L1276.4,657.6 L1277.6,650.2 L1278.0,662.0 L1279.7,643.1 L1281.0,648.7 L1281.7,636.3 L1282.7,653.4 L1284.4,648.2 L1284.5,657.8 L1284.5,670.6 L1285.8,662.8 L1285.3,684.8 L1287.0,675.1 L1287.0,691.2 L1287.0,676.3 L1288.2,681.8 L1287.0,663.0 L1288.4,669.0 L1287.3,641.0 L1288.8,646.6 L1287.6,620.8 L1288.8,630.3 L1288.8,617.0 L1289.9,579.0 L1291.0,542.6 L1293.0,584.6 L1295.0,676.0 L1296.8,649.2 L1297.0,633.6 L1298.2,642.2 L1298.0,618.7 L1299.0,627.3 L1299.0,618.0 L1300.0,617.9 L1301.0,621.6 L1302.0,623.4 L1303.9,609.1 L1305.2,615.3 L1306.9,601.8 L1307.2,612.8 L1308.7,607.1 L1309.7,623.4 L1310.6,624.5 L1311.6,624.5 L1312.5,625.5 L1312.5,640.2 L1314.3,632.6 L1314.6,653.5 L1314.6,642.1 L1315.8,651.4 L1314.8,617.8 L1316.0,625.6 L1316.0,612.6 L1317.1,613.0 L1318.3,606.6 L1319.4,608.3 L1319.9,626.5 L1321.0,617.6 L1321.0,627.7 L1322.3,620.6 L1323.7,614.8 L1324.8,618.9 L1325.9,615.1 L1327.0,612.6 L1327.0,601.2 L1328.0,610.1 L1327.6,585.3 L1329.0,592.2 L1329.0,580.3 L1329.4,595.7 L1331.0,588.2 L1330.4,606.4 L1332.3,600.2 L1332.3,612.6 L1332.3,601.2 L1333.8,610.9 L1334.5,591.0 L1334.7,600.0 L1335.8,590.5 L1337.0,606.0 L1337.5,595.2 L1339.5,600.8 L1339.8,591.0 L1340.7,585.0 L1341.7,586.5 L1342.6,578.0 L1342.8,587.6 L1343.9,579.3 L1345.2,597.5 L1346.3,597.5 L1347.4,592.4 L1348.5,589.0 L1349.9,573.5 L1351.7,581.9 L1351.7,573.8 L1352.6,569.7 L1353.6,561.9 L1354.5,559.8 L1354.5,572.0 L1355.5,564.4 L1356.0,589.0 L1356.3,574.0 L1357.8,580.7 L1358.0,566.3 L1359.1,568.8 L1360.3,572.4 L1361.4,570.6 L1362.3,560.0 L1363.4,567.4 L1364.6,555.5 L1365.7,557.5 L1366.8,565.2 L1368.1,549.4 L1369.2,557.2 L1369.3,549.0 L1369.5,559.7 L1371.2,553.0 L1372.0,567.4 L1373.2,564.4 L1374.3,561.0 L1374.9,576.7 L1376.5,566.9 L1376.5,576.0 L1376.6,591.3 L1378.0,582.0 L1378.0,591.0 L1380.0,580.3 L1381.8,599.7 L1382.9,607.6 L1384.0,610.5 L1385.0,632.0" fill="none" stroke="#163f47" stroke-width="3.1" stroke-linejoin="round" stroke-linecap="round"/>
<line x1="813" y1="911" x2="1418" y2="619.5" stroke="#163f47" stroke-width="4.3"/>
<text class="wm" x="1065.4" y="991.8">©</text>
<text class="wm" x="1094.6" y="991.8" textLength="43" lengthAdjust="spacingAndGlyphs">BC</text>
<text class="wm" transform="translate(1135.2 991.8) scale(1.2 1)" style="font-size:45px;stroke-width:0.35px">α</text>
<text class="wm" x="1172.3" y="991.8">Research</text>
<text class="wm yr" x="1297" y="991.8" textLength="59.5" lengthAdjust="spacingAndGlyphs">2021</text>
</svg>
</body></html>
